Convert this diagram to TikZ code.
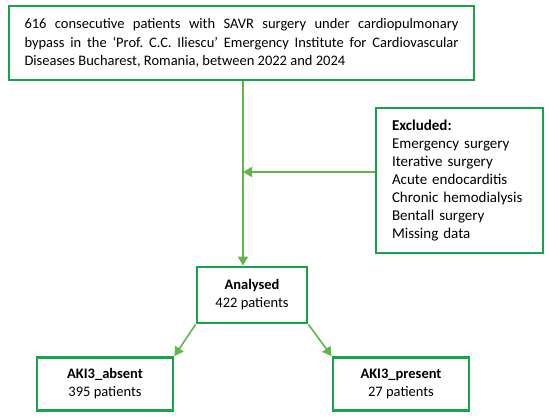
\documentclass[tikz,border=0pt]{standalone}
\usepackage{fontspec}
\setmainfont{Carlito}
\usetikzlibrary{arrows.meta}
\definecolor{boxgreen}{RGB}{22,163,74}
\definecolor{arrgreen}{RGB}{96,182,72}
\frenchspacing
\tikzset{
  box/.style={draw=boxgreen, line width=2.8pt, inner sep=0pt, font=\fontsize{14.5}{18}\selectfont},
  conn/.style={draw=arrgreen, line width=1.6pt, -{Triangle[length=9pt,width=10pt]}}
}
\begin{document}
\begin{tikzpicture}[x=1pt,y=-1pt]
\useasboundingbox (0,0) rectangle (550,418);
\node[box, text width=434pt, align=justify, inner xsep=15.5pt, minimum height=74pt, font=\fontsize{14.5}{18.5}\selectfont] (top) at (241.5,43)
 {616 consecutive patients with SAVR surgery under cardiopulmonary\linebreak bypass in the ‘Prof. C.C. Iliescu’ Emergency Institute for Cardiovascular\linebreak Diseases Bucharest, Romania, between 2022 and 2024};
\node[box, text width=135pt, align=left, inner xsep=16pt, minimum height=145pt, font=\fontsize{15}{18}\selectfont] (exc) at (459.5,180.5)
 {\textbf{Excluded:}\\Emergency surgery\\Iterative surgery\\Acute endocarditis\\Chronic hemodialysis\\Bentall surgery\\Missing data};
\node[box, minimum width=110pt, minimum height=56pt, align=center] (ana) at (252,295)
 {\textbf{Analysed}\\422 patients};
\node[box, minimum width=136pt, minimum height=53pt, align=center] (abs) at (105,384)
 {\textbf{AKI3\_absent}\\395 patients};
\node[box, minimum width=136pt, minimum height=53pt, align=center] (pre) at (401,384)
 {\textbf{AKI3\_present}\\27 patients};
\coordinate (j) at (243,172);
\draw[conn] (top.south -| j) -- (ana.north -| j);
\draw[conn] (exc.west |- j) -- (j);
\draw[conn] (ana.south west) -- (abs.north east);
\draw[conn] (ana.south east) -- (pre.north west);
\end{tikzpicture}
\end{document}
